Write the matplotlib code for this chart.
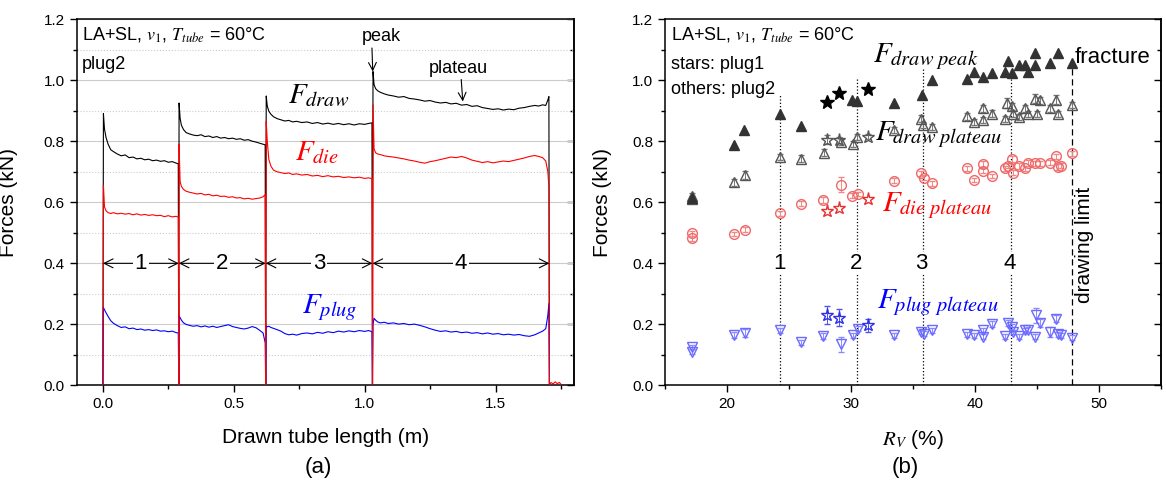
import numpy as np
import matplotlib
matplotlib.use('Agg')
import matplotlib.pyplot as plt
from matplotlib.ticker import MultipleLocator, NullFormatter

plt.rcParams['font.family'] = ['Liberation Sans', 'DejaVu Sans']
plt.rcParams['mathtext.fontset'] = 'stix'

# ---------------- (a) force traces vs drawn tube length ----------------
# one list per pass, zeros mark the gaps between passes
seg1_x = [0.000, 0.002, 0.006, 0.012, 0.020, 0.030, 0.040, 0.055, 0.070, 0.085, 0.100, 0.115,
          0.130, 0.145, 0.160, 0.175, 0.190, 0.205, 0.220, 0.235, 0.250, 0.265, 0.280, 0.288]
seg2_x = [0.290, 0.291, 0.295, 0.300, 0.308, 0.318, 0.330, 0.345, 0.360, 0.375, 0.390, 0.405, 0.420,
          0.435, 0.450, 0.465, 0.480, 0.495, 0.510, 0.525, 0.540, 0.555, 0.570, 0.585, 0.600,
          0.612, 0.620]
seg3_x = [0.622, 0.624, 0.628, 0.634, 0.642, 0.652, 0.665, 0.680, 0.695, 0.710, 0.725, 0.740, 0.760,
          0.780, 0.800, 0.820, 0.840, 0.860, 0.880, 0.900, 0.920, 0.940, 0.960, 0.980, 1.000,
          1.015, 1.028]
seg4_x = [1.030, 1.032, 1.036, 1.042, 1.050, 1.060, 1.075, 1.090, 1.110, 1.130, 1.150, 1.170, 1.190,
          1.210, 1.230, 1.250, 1.270, 1.290, 1.310, 1.330, 1.350, 1.370, 1.390, 1.410, 1.430,
          1.450, 1.470, 1.490, 1.510, 1.530, 1.550, 1.570, 1.590, 1.610, 1.630, 1.650, 1.665,
          1.680, 1.692, 1.700, 1.704, 1.706]

draw1 = [0, 0.890, 0.840, 0.812, 0.790, 0.772, 0.766, 0.758, 0.752, 0.755, 0.746, 0.748,
         0.742, 0.744, 0.739, 0.741, 0.736, 0.738, 0.734, 0.736, 0.731, 0.733, 0.728, 0.726]
draw2 = [0, 0.925, 0.875, 0.852, 0.838, 0.828, 0.824, 0.820, 0.818, 0.821, 0.815, 0.817, 0.812,
         0.815, 0.810, 0.812, 0.808, 0.810, 0.806, 0.808, 0.803, 0.805, 0.800, 0.797, 0.793,
         0.790, 0.788]
draw3 = [0, 0.948, 0.915, 0.898, 0.888, 0.880, 0.874, 0.870, 0.866, 0.868, 0.863, 0.865, 0.861,
         0.863, 0.858, 0.861, 0.856, 0.859, 0.855, 0.858, 0.854, 0.857, 0.853, 0.857, 0.855,
         0.858, 0.860]
draw4 = [0, 1.028, 0.985, 0.972, 0.965, 0.960, 0.955, 0.951, 0.948, 0.944, 0.946, 0.940, 0.938,
         0.935, 0.931, 0.933, 0.928, 0.925, 0.927, 0.922, 0.924, 0.918, 0.920, 0.914, 0.916,
         0.910, 0.907, 0.904, 0.906, 0.902, 0.905, 0.903, 0.908, 0.910, 0.914, 0.917, 0.915,
         0.919, 0.917, 0.935, 0.946, 0]

die1 = [0, 0.655, 0.585, 0.572, 0.566, 0.563, 0.566, 0.562, 0.564, 0.561, 0.563, 0.559,
        0.562, 0.558, 0.560, 0.557, 0.559, 0.556, 0.557, 0.553, 0.556, 0.552, 0.554, 0.551]
die2 = [0, 0.790, 0.668, 0.652, 0.642, 0.636, 0.633, 0.630, 0.627, 0.629, 0.624, 0.626, 0.621,
        0.623, 0.619, 0.620, 0.616, 0.618, 0.614, 0.615, 0.611, 0.613, 0.610, 0.612, 0.614,
        0.618, 0.625]
die3 = [0, 0.865, 0.800, 0.740, 0.718, 0.705, 0.700, 0.697, 0.694, 0.696, 0.691, 0.693, 0.689,
        0.691, 0.686, 0.688, 0.684, 0.687, 0.683, 0.685, 0.681, 0.683, 0.680, 0.682, 0.678,
        0.680, 0.677]
die4 = [0, 0.920, 0.775, 0.762, 0.758, 0.756, 0.752, 0.750, 0.748, 0.745, 0.742, 0.738, 0.735,
        0.731, 0.728, 0.733, 0.736, 0.740, 0.744, 0.748, 0.746, 0.750, 0.745, 0.738, 0.734,
        0.730, 0.733, 0.729, 0.732, 0.735, 0.733, 0.737, 0.741, 0.745, 0.750, 0.753, 0.750,
        0.746, 0.735, 0.700, 0.650, 0]

plug1 = [0, 0.255, 0.248, 0.238, 0.226, 0.212, 0.204, 0.196, 0.190, 0.192, 0.186, 0.188,
         0.183, 0.185, 0.181, 0.183, 0.180, 0.182, 0.178, 0.179, 0.176, 0.178, 0.173, 0.172]
plug2 = [0, 0.228, 0.222, 0.214, 0.205, 0.200, 0.197, 0.194, 0.196, 0.192, 0.195, 0.191, 0.194,
         0.190, 0.193, 0.196, 0.199, 0.193, 0.190, 0.187, 0.185, 0.188, 0.193, 0.189, 0.180,
         0.172, 0.140]
plug3 = [0, 0.195, 0.192, 0.194, 0.190, 0.187, 0.183, 0.178, 0.170, 0.166, 0.168, 0.165, 0.170,
         0.172, 0.169, 0.174, 0.171, 0.176, 0.173, 0.178, 0.175, 0.179, 0.176, 0.180, 0.177,
         0.180, 0.176]
plug4 = [0, 0.200, 0.220, 0.214, 0.208, 0.205, 0.207, 0.203, 0.205, 0.201, 0.203, 0.199, 0.201,
         0.197, 0.192, 0.186, 0.181, 0.177, 0.179, 0.175, 0.177, 0.173, 0.175, 0.171, 0.173,
         0.169, 0.172, 0.168, 0.170, 0.166, 0.168, 0.165, 0.167, 0.163, 0.161, 0.166, 0.172,
         0.178, 0.186, 0.230, 0.268, 0]

tail_x = [1.706, 1.712, 1.720, 1.728, 1.736, 1.744, 1.750]
tail_die = [0, 0.010, 0.005, 0.012, 0.006, 0.010, 0.004]

pass_bounds = [0.0, 0.29, 0.622, 1.03, 1.706]
pass_labels = ['1', '2', '3', '4']

# ---------------- (b) forces vs R_V ----------------
peak_rv = [17.22, 20.57, 21.38, 24.25, 25.97, 30.10, 30.50, 33.44, 35.73, 36.54, 39.38, 39.95,
           40.61, 41.39, 42.39, 42.68, 42.97, 43.54, 44.06, 44.26, 44.83, 44.83, 46.07, 46.70, 47.79]
peak_f = [0.615, 0.787, 0.838, 0.890, 0.849, 0.934, 0.930, 0.925, 0.952, 1.001, 1.004, 1.025,
          1.010, 1.023, 1.026, 1.061, 1.023, 1.048, 1.048, 1.026, 1.048, 1.088, 1.055, 1.088, 1.055]

plateau_rv = [17.22, 17.22, 20.57, 21.44, 24.31, 25.97, 27.81, 29.19, 30.19, 30.48, 33.44,
              35.65, 35.79, 36.57, 39.38, 39.95, 40.61, 40.67, 41.39, 42.39, 42.62, 42.97,
              43.03, 43.54, 44.06, 44.26, 44.83, 44.98, 45.27, 46.07, 46.56, 46.70, 47.79]
plateau_f = [0.620, 0.610, 0.665, 0.689, 0.749, 0.743, 0.762, 0.798, 0.792, 0.814, 0.836,
             0.874, 0.854, 0.847, 0.881, 0.863, 0.907, 0.868, 0.890, 0.874, 0.925, 0.914,
             0.890, 0.879, 0.907, 0.890, 0.939, 0.890, 0.934, 0.907, 0.936, 0.890, 0.917]
plateau_err = [0.010, 0.010, 0.012, 0.012, 0.010, 0.012, 0.012, 0.010, 0.010, 0.010, 0.010,
               0.012, 0.010, 0.010, 0.012, 0.010, 0.012, 0.010, 0.012, 0.010, 0.015, 0.012,
               0.010, 0.010, 0.012, 0.010, 0.015, 0.010, 0.012, 0.012, 0.015, 0.010, 0.010]

die_rv = [17.22, 17.22, 20.57, 21.44, 24.31, 25.97, 27.75, 29.19, 30.10, 30.54, 33.44, 35.65,
          35.85, 36.57, 39.38, 39.95, 40.61, 40.67, 41.39, 42.39, 42.68, 42.97, 43.03, 43.54,
          44.06, 44.26, 44.83, 45.27, 46.07, 46.56, 46.70, 46.93, 47.79]
die_f = [0.499, 0.482, 0.496, 0.510, 0.564, 0.595, 0.608, 0.658, 0.622, 0.627, 0.670, 0.695,
         0.681, 0.662, 0.711, 0.673, 0.725, 0.703, 0.686, 0.711, 0.720, 0.743, 0.697, 0.718,
         0.711, 0.729, 0.727, 0.727, 0.729, 0.751, 0.716, 0.720, 0.760]
die_err = [0.008, 0.008, 0.008, 0.008, 0.008, 0.008, 0.010, 0.025, 0.008, 0.008, 0.008, 0.008,
           0.008, 0.008, 0.008, 0.008, 0.010, 0.008, 0.008, 0.008, 0.008, 0.010, 0.008, 0.010,
           0.008, 0.010, 0.008, 0.008, 0.008, 0.008, 0.010, 0.008, 0.008]

plug_rv = [17.22, 17.22, 20.57, 21.44, 24.25, 25.97, 27.75, 29.19, 30.19, 30.54, 33.44, 35.65,
           35.85, 36.57, 39.38, 39.95, 40.61, 40.67, 41.39, 42.39, 42.68, 42.97, 43.03, 43.54,
           44.06, 44.26, 44.83, 44.92, 45.27, 46.07, 46.56, 46.70, 46.93, 47.79]
plug_f = [0.126, 0.110, 0.164, 0.172, 0.181, 0.142, 0.162, 0.135, 0.164, 0.186, 0.164, 0.175,
          0.170, 0.181, 0.168, 0.164, 0.159, 0.181, 0.201, 0.161, 0.205, 0.192, 0.175, 0.161,
          0.181, 0.183, 0.159, 0.230, 0.205, 0.175, 0.219, 0.168, 0.164, 0.157]
plug_err = [0.008, 0.008, 0.010, 0.012, 0.008, 0.008, 0.010, 0.025, 0.008, 0.008, 0.008, 0.008,
            0.008, 0.008, 0.008, 0.008, 0.008, 0.008, 0.010, 0.008, 0.010, 0.010, 0.008, 0.008,
            0.008, 0.008, 0.008, 0.025, 0.012, 0.015, 0.012, 0.008, 0.008, 0.008]

star_rv = [28.04, 29.04, 31.40]
star_peak = [0.928, 0.958, 0.970]
star_plateau = [0.805, 0.803, 0.814]
star_plateau_err = [0.015, 0.010, 0.008]
star_die = [0.570, 0.581, 0.611]
star_plug = [0.230, 0.222, 0.197]
star_plug_err = [0.030, 0.028, 0.022]

stage_rv = [24.3, 30.5, 35.8, 42.9]
stage_top = [0.95, 1.01, 1.04, 1.04]
stage_labels = ['1', '2', '3', '4']
limit_rv = 47.8

fig = plt.figure(figsize=(11.66, 4.8), dpi=100)
ax1 = fig.add_axes([0.0658, 0.1969, 0.4265, 0.7635])
ax2 = fig.add_axes([0.5703, 0.1969, 0.4254, 0.7635])

# ---- panel (a)
length_m = seg1_x + seg2_x + seg3_x + seg4_x
f_draw = draw1 + draw2 + draw3 + draw4
f_die = die1 + die2 + die3 + die4
f_plug = plug1 + plug2 + plug3 + plug4

ax1.plot(length_m, f_draw, color='black', lw=0.8, zorder=3)
ax1.plot(length_m, f_plug, color='blue', lw=0.8, zorder=3)
ax1.plot(length_m, f_die, color='red', lw=0.8, zorder=4)
ax1.plot(tail_x, tail_die, color='red', lw=0.8, zorder=4)

ax1.set_xlim(-0.1, 1.8)
ax1.set_ylim(0, 1.2)
ax1.xaxis.set_major_locator(MultipleLocator(0.5))
ax1.xaxis.set_minor_locator(MultipleLocator(0.25))
ax1.yaxis.set_major_locator(MultipleLocator(0.2))
ax1.yaxis.set_minor_locator(MultipleLocator(0.1))
ax1.yaxis.grid(True, which='major', color='#cccccc', lw=0.8)
ax1.yaxis.grid(True, which='minor', color='#cccccc', lw=0.8, ls=':')
ax1.set_axisbelow(True)

for i, lab in enumerate(pass_labels):
    a, b = pass_bounds[i], pass_bounds[i + 1]
    ax1.annotate('', xy=(a, 0.4), xytext=(b, 0.4),
                 arrowprops=dict(arrowstyle='<->', lw=0.8, color='black',
                                 mutation_scale=16, shrinkA=0, shrinkB=0), zorder=5)
    ax1.text((a + b) / 2, 0.4, lab, ha='center', va='center', fontsize=16, zorder=6,
             bbox=dict(facecolor='white', edgecolor='none', pad=1.5))

ax1.text(-0.08, 1.148, r'LA+SL, $v_{\mathit{1}}$, $T_{tube}$ = 60°C', fontsize=13, va='center')
ax1.text(-0.08, 1.05, 'plug2', fontsize=13, va='center')
ax1.text(0.706, 0.924, r'$F_{draw}$', fontsize=21, color='black')
ax1.text(0.734, 0.738, r'$F_{die}$', fontsize=21, color='red')
ax1.text(0.762, 0.236, r'$F_{plug}$', fontsize=21, color='blue')
ax1.annotate('peak', xy=(1.031, 1.028), xytext=(1.065, 1.142), ha='center', va='center',
             fontsize=13, arrowprops=dict(arrowstyle='->', lw=0.8, color='black',
                                          mutation_scale=14, shrinkA=0, shrinkB=0,
                                          relpos=(0.25, 0.0)))
ax1.annotate('plateau', xy=(1.375, 0.93), xytext=(1.357, 1.039), ha='center', va='center',
             fontsize=13, arrowprops=dict(arrowstyle='->', lw=0.8, color='black',
                                          mutation_scale=14, shrinkA=0, shrinkB=0,
                                          relpos=(0.55, 0.0)))

ax1.set_xlabel('Drawn tube length (m)', fontsize=15)
ax1.set_ylabel('Forces (kN)', fontsize=15)
ax1.xaxis.set_label_coords(0.5, -0.115)
ax1.yaxis.set_label_coords(-0.118, 0.5)

# ---- panel (b)
ax2.vlines(stage_rv, 0, stage_top, colors='black', linestyles=':', lw=0.9, zorder=1)
ax2.vlines(limit_rv, 0, 1.05, colors='black', linestyles=(0, (5, 3)), lw=0.9, zorder=1)
for rv, lab in zip(stage_rv, stage_labels):
    ax2.text(rv - 0.1, 0.4, lab, ha='center', va='center', fontsize=16, zorder=6,
             bbox=dict(facecolor='white', edgecolor='none', pad=0.5))

ax2.errorbar(plug_rv, plug_f, yerr=plug_err, fmt='v', ms=7, mfc='none', mec='#6a6aff',
             ecolor='#8a8aff', elinewidth=0.7, capsize=2.5, mew=1.0, zorder=3)
ax2.errorbar(die_rv, die_f, yerr=die_err, fmt='o', ms=7, mfc='none', mec='#f06868',
             ecolor='#f08888', elinewidth=0.7, capsize=2.5, mew=1.0, zorder=3)
ax2.errorbar(plateau_rv, plateau_f, yerr=plateau_err, fmt='^', ms=7, mfc='none', mec='#555555',
             ecolor='#777777', elinewidth=0.7, capsize=2.5, mew=1.0, zorder=3)
ax2.plot(peak_rv, peak_f, '^', ms=6.5, color='#333333', zorder=4)

ax2.plot(star_rv, star_peak, '*', ms=10, color='black', zorder=4)
ax2.errorbar(star_rv, star_plateau, yerr=star_plateau_err, fmt='*', ms=9.5, mfc='none',
             mec='#555555', ecolor='#777777', elinewidth=0.7, capsize=2.5, mew=1.0, zorder=4)
ax2.plot(star_rv, star_die, '*', ms=9.5, mfc='none', mec='#e83030', mew=1.0, zorder=4)
ax2.errorbar(star_rv, star_plug, yerr=star_plug_err, fmt='*', ms=9.5, mfc='none',
             mec='#2f2fe6', ecolor='#5050f0', elinewidth=0.7, capsize=2.5, mew=1.0, zorder=4)

ax2.set_xlim(15, 55)
ax2.set_ylim(0, 1.2)
ax2.xaxis.set_major_locator(MultipleLocator(10))
ax2.xaxis.set_minor_locator(MultipleLocator(5))
ax2.yaxis.set_major_locator(MultipleLocator(0.2))
ax2.yaxis.set_minor_locator(MultipleLocator(0.1))

ax2.text(15.5, 1.148, r'LA+SL, $v_{\mathit{1}}$, $T_{tube}$ = 60°C', fontsize=13, va='center')
ax2.text(15.5, 1.05, 'stars: plug1', fontsize=13, va='center')
ax2.text(15.5, 0.97, 'others: plug2', fontsize=13, va='center')
ax2.text(31.8, 1.06, r'$F_{draw\ peak}$', fontsize=21, color='black')
ax2.text(31.9, 0.803, r'$F_{draw\ plateau}$', fontsize=21, color='black')
ax2.text(32.5, 0.57, r'$F_{die\ plateau}$', fontsize=21, color='red')
ax2.text(32.06, 0.252, r'$F_{plug\ plateau}$', fontsize=21, color='blue')
ax2.text(48.0, 1.075, 'fracture', fontsize=16, va='center')
ax2.text(48.85, 0.46, 'drawing limit', fontsize=15, rotation=90, ha='center', va='center')

ax2.set_xlabel(r'$R_V$ (%)', fontsize=15)
ax2.set_ylabel('Forces (kN)', fontsize=15)
ax2.xaxis.set_label_coords(0.5, -0.115)
ax2.yaxis.set_label_coords(-0.107, 0.5)

for ax in (ax1, ax2):
    ax.tick_params(which='major', direction='out', length=5, width=1, labelsize=11)
    ax.tick_params(which='minor', direction='out', length=3, width=1)
    for s in ax.spines.values():
        s.set_linewidth(1.1)
    # inward ticks on the right-hand frame
    sec = ax.secondary_yaxis('right')
    sec.yaxis.set_major_locator(MultipleLocator(0.2))
    sec.yaxis.set_minor_locator(MultipleLocator(0.1))
    sec.yaxis.set_major_formatter(NullFormatter())
    sec.tick_params(which='major', direction='in', length=5, width=1)
    sec.tick_params(which='minor', direction='in', length=3, width=1)
    sec.spines['right'].set_linewidth(1.1)

fig.text(318 / 1166, 1 - 467 / 480, '(a)', fontsize=16, ha='center', va='center')
fig.text(905 / 1166, 1 - 467 / 480, '(b)', fontsize=16, ha='center', va='center')

fig.savefig('out.png', dpi=100)
